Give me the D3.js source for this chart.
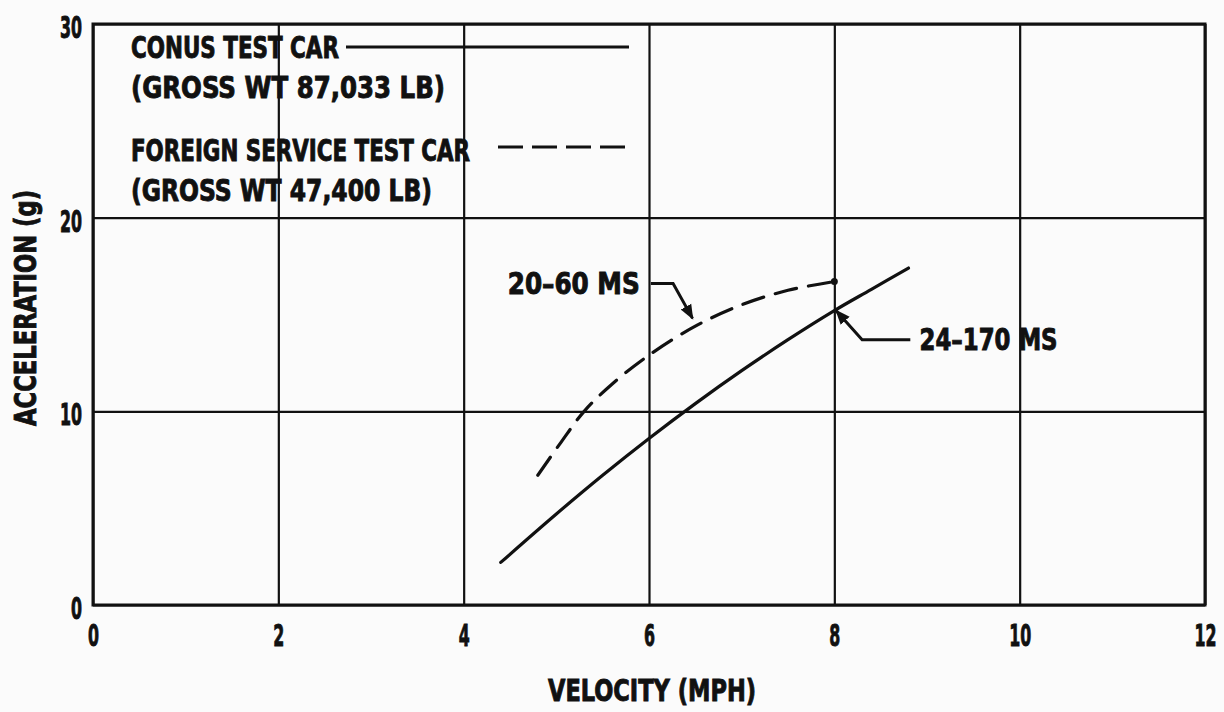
<!DOCTYPE html>
<html>
<head>
<meta charset="utf-8">
<script src="https://cdn.jsdelivr.net/npm/d3@7"></script>
<style>
  body { margin: 0; background: #fbfbfb; }
  svg text { font-family: "Liberation Sans Narrow", "DejaVu Sans Condensed", sans-serif; font-weight: bold;
             fill: #111; stroke: #111; stroke-width: 0.9px; }
</style>
</head>
<body>
<script>
// data
var xTicks = [0, 2, 4, 6, 8, 10, 12];
var yTicks = [0, 10, 20, 30];

var conusVel = [4.4, 5.0, 5.5, 6.0, 6.5, 7.0, 7.5, 8.0, 8.4, 8.8];
var conusAcc = [2.2, 4.7, 6.7, 8.6, 10.4, 12.1, 13.7, 15.2, 16.3, 17.4];

var foreignVel = [4.8, 5.05, 5.3, 5.6, 6.0, 6.5, 7.0, 7.5, 8.0];
var foreignAcc = [6.7, 8.4, 10.0, 11.4, 12.9, 14.4, 15.5, 16.25, 16.7];

var legendLines = ["CONUS TEST CAR", "(GROSS WT  87,033 LB)",
                   "FOREIGN SERVICE TEST CAR", "(GROSS WT  47,400 LB)"];

var annoLabels = ["20\u201360 MS", "24\u2013170 MS"];
var annoPaths = [
  [[6.02, 16.6], [6.26, 16.6], [6.47, 14.8]],
  [[8.82, 13.7], [8.30, 13.7], [8.02, 15.2]]
];

var W = 1224, H = 712;
var m = {left: 93, top: 24, right: 19, bottom: 107};
var w = W - m.left - m.right, h = H - m.top - m.bottom;

var svg = d3.select("body").append("svg")
  .attr("width", W).attr("height", H);

svg.append("defs").append("marker")
  .attr("id", "arr").attr("viewBox", "0 0 10 10")
  .attr("refX", 9).attr("refY", 5)
  .attr("markerWidth", 5).attr("markerHeight", 5)
  .attr("orient", "auto")
  .append("path").attr("d", "M0,1 L10,5 L0,9 Z").attr("fill", "#111");

var g = svg.append("g").attr("transform", "translate(" + m.left + "," + m.top + ")");

var x = d3.scaleLinear().domain([0, 12]).range([0, w]);
var y = d3.scaleLinear().domain([0, 30]).range([h, 0]);

// grid via axes
var xa = g.append("g").attr("transform", "translate(0," + h + ")")
  .call(d3.axisBottom(x).tickValues(xTicks).tickSize(-h).tickPadding(20).tickFormat(d3.format("d")));
var ya = g.append("g")
  .call(d3.axisLeft(y).tickValues(yTicks).tickSize(-w).tickPadding(11).tickFormat(d3.format("d")));

[xa, ya].forEach(function(a) {
  a.select(".domain").remove();
  a.selectAll("line").attr("stroke", "#111").attr("stroke-width", 2.2);
  a.selectAll("text").style("font-size", "30px").attr("fill", "#111")
    .attr("lengthAdjust", "spacingAndGlyphs")
    .attr("textLength", function(d) { return 11 * String(d).length; });
});
ya.selectAll("text").attr("dy", "0.45em");
xa.selectAll("text").attr("dy", "0.71em");

g.append("rect").attr("width", w).attr("height", h)
  .attr("fill", "none").attr("stroke", "#111").attr("stroke-width", 3);

// curves
var line = d3.line()
  .x(function(d) { return x(d[0]); })
  .y(function(d) { return y(d[1]); })
  .curve(d3.curveCatmullRom);

g.append("path")
  .datum(d3.zip(conusVel, conusAcc))
  .attr("d", line)
  .attr("fill", "none").attr("stroke", "#111").attr("stroke-width", 3.2)
  .attr("stroke-linecap", "round");

g.append("path")
  .datum(d3.zip(foreignVel, foreignAcc))
  .attr("d", line)
  .attr("fill", "none").attr("stroke", "#111").attr("stroke-width", 3.2)
  .attr("stroke-dasharray", "22,12").attr("stroke-linecap", "round");

// end mark of the dashed curve
g.append("circle")
  .attr("cx", x(foreignVel[foreignVel.length - 1]))
  .attr("cy", y(foreignAcc[foreignAcc.length - 1]))
  .attr("r", 3.5).attr("fill", "#111");

// annotations
var aline = d3.line()
  .x(function(d) { return x(d[0]); })
  .y(function(d) { return y(d[1]); });

annoPaths.forEach(function(p) {
  g.append("path").attr("d", aline(p))
    .attr("fill", "none").attr("stroke", "#111").attr("stroke-width", 3)
    .attr("marker-end", "url(#arr)");
});

g.append("text")
  .attr("x", x(5.9)).attr("y", y(16.6)).attr("dy", "0.36em")
  .attr("text-anchor", "end").style("font-size", "30px")
  .attr("textLength", 132).attr("lengthAdjust", "spacingAndGlyphs")
  .text(annoLabels[0]);

g.append("text")
  .attr("x", x(8.92)).attr("y", y(13.7)).attr("dy", "0.36em")
  .style("font-size", "30px")
  .attr("textLength", 138).attr("lengthAdjust", "spacingAndGlyphs")
  .text(annoLabels[1]);

// legend
var legY = [47, 87, 150, 190];
var legW = [208, 314, 339, 301];
legendLines.forEach(function(t, i) {
  svg.append("text")
    .attr("x", 131).attr("y", legY[i]).attr("dy", "0.36em")
    .style("font-size", "30px")
    .attr("textLength", legW[i]).attr("lengthAdjust", "spacingAndGlyphs")
    .text(t);
});
svg.append("line").attr("x1", 346).attr("x2", 629).attr("y1", 47).attr("y2", 47)
  .attr("stroke", "#111").attr("stroke-width", 3);
svg.append("line").attr("x1", 498).attr("x2", 628).attr("y1", 147).attr("y2", 147)
  .attr("stroke", "#111").attr("stroke-width", 3).attr("stroke-dasharray", "25,9");

// axis titles
svg.append("text")
  .attr("x", 652).attr("y", 690).attr("dy", "0.36em")
  .attr("text-anchor", "middle").style("font-size", "30px")
  .attr("textLength", 208).attr("lengthAdjust", "spacingAndGlyphs")
  .text("VELOCITY (MPH)");

svg.append("text")
  .attr("transform", "translate(25,308) rotate(-90)")
  .attr("dy", "0.36em")
  .attr("text-anchor", "middle").style("font-size", "30px")
  .attr("textLength", 236).attr("lengthAdjust", "spacingAndGlyphs")
  .text("ACCELERATION (g)");
</script>
</body>
</html>
